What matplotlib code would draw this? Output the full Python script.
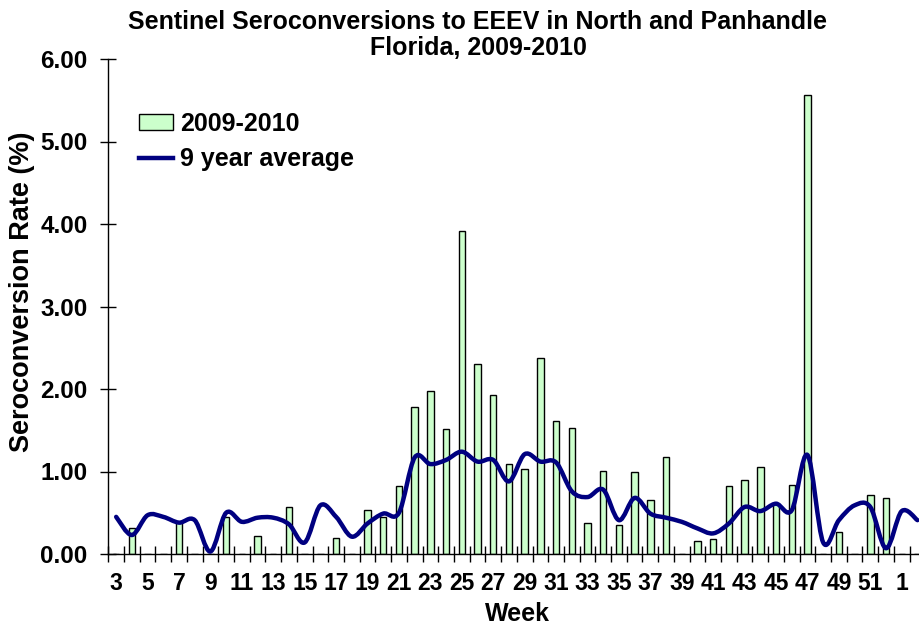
import matplotlib
matplotlib.use("Agg")
import matplotlib.pyplot as plt
from matplotlib.path import Path
from matplotlib.patches import PathPatch
from matplotlib.lines import Line2D
import numpy as np

weeks = [3, 4, 5, 6, 7, 8, 9, 10, 11, 12, 13, 14, 15, 16, 17, 18, 19, 20,
         21, 22, 23, 24, 25, 26, 27, 28, 29, 30, 31, 32, 33, 34, 35, 36, 37,
         38, 39, 40, 41, 42, 43, 44, 45, 46, 47, 48, 49, 50, 51, 52, 1, 2]
rate_2009_2010 = [0.00, 0.32, 0.00, 0.00, 0.39, 0.00, 0.00, 0.45, 0.00, 0.22,
                  0.00, 0.57, 0.00, 0.00, 0.19, 0.00, 0.53, 0.45, 0.83, 1.78,
                  1.97, 1.52, 3.92, 2.30, 1.93, 1.09, 1.03, 2.38, 1.61, 1.53,
                  0.38, 1.01, 0.35, 0.99, 0.65, 1.17, 0.00, 0.16, 0.18, 0.82,
                  0.90, 1.06, 0.61, 0.84, 5.56, 0.00, 0.27, 0.00, 0.71, 0.68,
                  0.00, 0.00]
avg_9yr = [0.45, 0.23, 0.47, 0.45, 0.38, 0.41, 0.03, 0.50, 0.39, 0.44,
           0.44, 0.36, 0.14, 0.59, 0.45, 0.21, 0.37, 0.49, 0.50, 1.17,
           1.09, 1.14, 1.24, 1.12, 1.14, 0.88, 1.21, 1.12, 1.11, 0.76,
           0.69, 0.78, 0.41, 0.68, 0.49, 0.44, 0.39, 0.31, 0.25, 0.37,
           0.57, 0.52, 0.61, 0.53, 1.20, 0.14, 0.41, 0.59, 0.57, 0.07,
           0.52, 0.41]

plt.rcParams['font.family'] = ['Liberation Sans', 'DejaVu Sans']
plt.rcParams['font.weight'] = 'bold'

W, H = 920, 626
fig = plt.figure(figsize=(W / 100, H / 100), dpi=100)
ax = fig.add_axes([108.3 / W, (H - 554) / H, 817 / W, 495 / H])

x = np.arange(len(weeks))
ax.bar(x, rate_2009_2010, width=0.41, color='#CCFFCC', edgecolor='black',
       linewidth=1.0, zorder=2)

# smooth line (Catmull-Rom as cubic Bezier, like Excel's smoothed line)
pts = np.column_stack([x, avg_9yr]).astype(float)
verts = [tuple(pts[0])]
codes = [Path.MOVETO]
n = len(pts)
for i in range(n - 1):
    p0 = pts[i - 1] if i > 0 else pts[i]
    p1 = pts[i]
    p2 = pts[i + 1]
    p3 = pts[i + 2] if i + 2 < n else pts[i + 1]
    c1 = p1 + (p2 - p0) / 6.0
    c2 = p2 - (p3 - p1) / 6.0
    verts += [tuple(c1), tuple(c2), tuple(p2)]
    codes += [Path.CURVE4] * 3
ax.add_patch(PathPatch(Path(verts, codes), facecolor='none',
                       edgecolor='#000080', linewidth=3.2, zorder=3,
                       capstyle='round', joinstyle='round'))

ax.set_xlim(-0.5, len(weeks) - 0.5)
ax.set_ylim(0, 6)
ax.spines['top'].set_visible(False)
ax.spines['right'].set_visible(False)
ax.spines['left'].set_linewidth(1.0)
ax.spines['bottom'].set_linewidth(1.0)

yt = np.arange(0, 6.01, 1.0)
ax.set_yticks(yt)
ax.set_yticklabels([f"{v:.2f}" for v in yt], fontsize=17.5, fontweight='bold')
ax.tick_params(axis='y', direction='inout', length=11, width=1.0, pad=9.5)

ax.set_xticks(np.arange(-0.5, len(weeks), 1.0), minor=False)
ax.set_xticklabels([])
ax.set_xticks(x[::2], minor=True)
ax.set_xticklabels([str(w) for w in weeks[::2]], minor=True,
                   fontsize=16.5, fontweight='bold')
ax.tick_params(axis='x', which='major', direction='inout', length=11, width=1.0)
ax.tick_params(axis='x', which='minor', length=0, pad=13)

fig.text(22 / W, 1 - 292 / H, "Seroconversion Rate (%)", rotation=90,
         ha='center', va='center', fontsize=19.5, fontweight='bold')
fig.text(517 / W, 1 - 614 / H, "Week", ha='center', va='center',
         fontsize=18, fontweight='bold')

fig.text(478 / W, 1 - 35 / H,
         "Sentinel Seroconversions to EEEV in North and Panhandle\nFlorida, 2009-2010",
         ha='center', va='center', fontsize=18, fontweight='bold',
         linespacing=1.15)

handles = [plt.Rectangle((0, 0), 1, 1, facecolor='#CCFFCC', edgecolor='black',
                         linewidth=1.0),
           Line2D([0], [0], color='#000080', linewidth=3.2)]
leg = fig.legend(handles, ["2009-2010", "9 year average"], loc='upper left',
                 bbox_to_anchor=(139 / W, 1 - 112 / H), frameon=False,
                 fontsize=18, handlelength=1.36, handleheight=0.6,
                 handletextpad=0.28, labelspacing=0.45, borderaxespad=0,
                 borderpad=0)
for t in leg.get_texts():
    t.set_fontweight('bold')

fig.savefig("out.png", dpi=100)
